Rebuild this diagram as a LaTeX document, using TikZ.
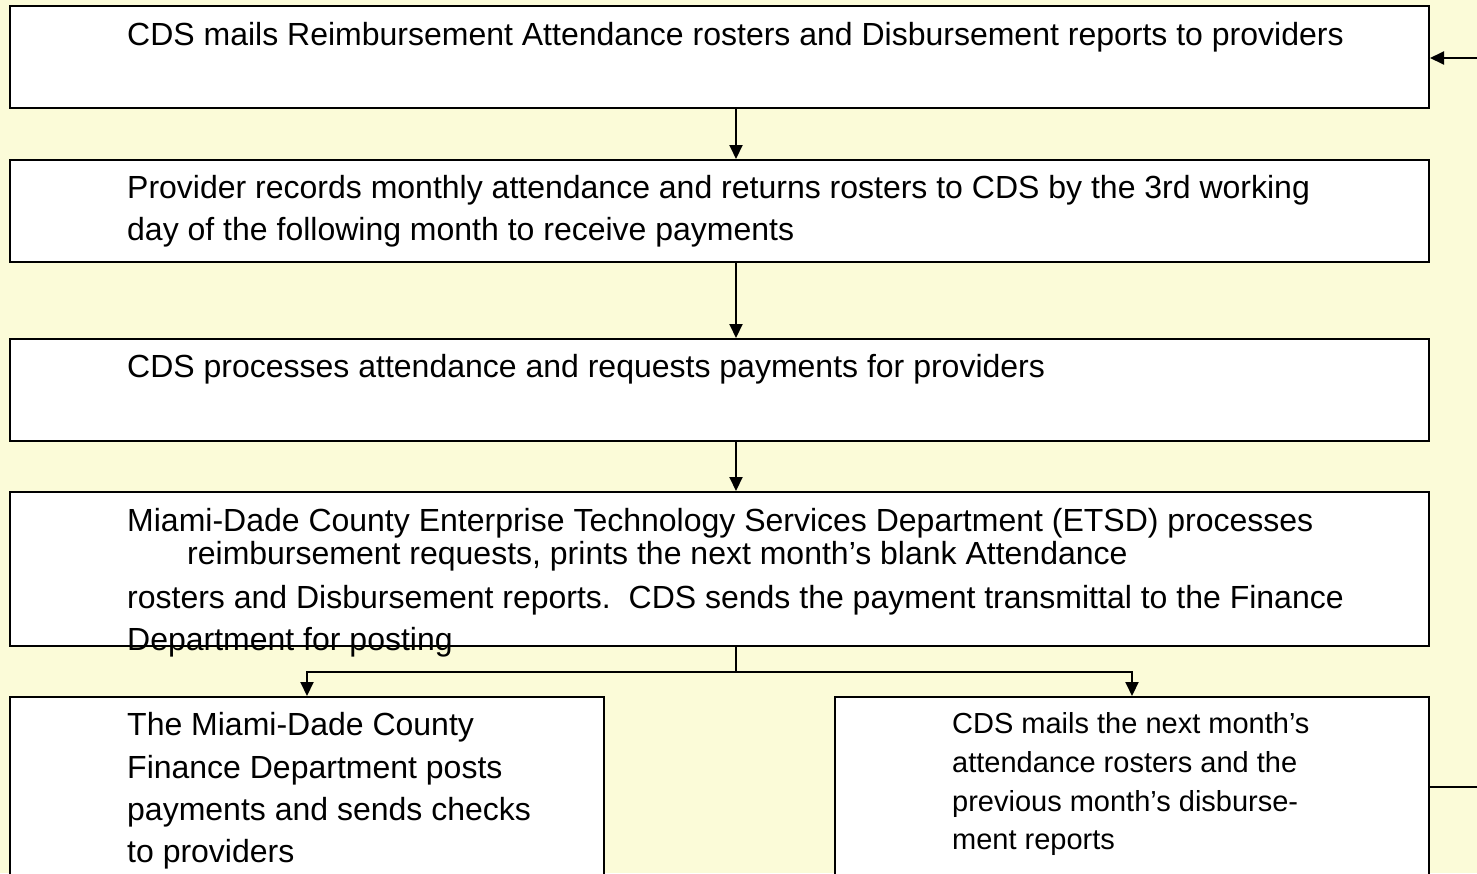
\documentclass[tikz,border=0pt]{standalone}
\usepackage{fontspec}
\setmainfont{Liberation Sans}
\usetikzlibrary{arrows.meta}
\definecolor{bgyellow}{RGB}{251,251,216}
\tikzset{
  box/.style={draw=black, fill=white, line width=2pt, inner sep=0pt},
  txt/.style={anchor=base west, inner sep=0pt, font=\fontsize{32}{38}\selectfont},
  smalltxt/.style={anchor=base west, inner sep=0pt, font=\fontsize{29}{35}\selectfont},
  conn/.style={draw=black, line width=2pt},
  arr/.style={conn, -{Triangle[length=14pt,width=13pt]}}
}
\begin{document}
\begin{tikzpicture}[x=1pt,y=-1pt]
\useasboundingbox (0,0) rectangle (1477,873);
\clip (0,0) rectangle (1477,873);
\fill[bgyellow] (0,0) rectangle (1477,873);

% boxes
\node[box, minimum width=1419pt, minimum height=102pt] (b1) at (719.5,57) {};
\node[box, minimum width=1419pt, minimum height=102pt] (b2) at (719.5,211) {};
\node[box, minimum width=1419pt, minimum height=102pt] (b3) at (719.5,390) {};
\node[box, minimum width=1419pt, minimum height=154pt] (b4) at (719.5,569) {};
\node[box, minimum width=594pt, minimum height=210pt] (b5) at (307,802) {};
\node[box, minimum width=594pt, minimum height=210pt] (b6) at (1132,802) {};

% texts
\node[txt] (t1) at (127,45) {CDS mails Reimbursement Attendance rosters and Disbursement reports to providers};
\node[txt] (t2a) at (127,198) {Provider records monthly attendance and returns rosters to CDS by the 3rd working};
\node[txt] (t2b) at (127,240) {day of the following month to receive payments};
\node[txt] (t3) at (127,377) {CDS processes attendance and requests payments for providers};
\node[txt] (t4a) at (127,531) {Miami-Dade County Enterprise Technology Services Department (ETSD) processes};
\node[txt] (t4b) at (187,564) {reimbursement requests, prints the next month’s blank Attendance};
\node[txt] (t4c) at (127,608) {rosters and Disbursement reports.\ \ CDS sends the payment transmittal to the Finance};
\node[txt] (t4d) at (127,650) {Department for posting};
\node[txt] (t5a) at (127,735) {The Miami-Dade County};
\node[txt] (t5b) at (127,778) {Finance Department posts};
\node[txt] (t5c) at (127,820) {payments and sends checks};
\node[txt] (t5d) at (127,862) {to providers};
\node[smalltxt] (t6a) at (952,733) {CDS mails the next month’s};
\node[smalltxt] (t6b) at (952,772) {attendance rosters and the};
\node[smalltxt] (t6c) at (952,811) {previous month’s disburse-};
\node[smalltxt] (t6d) at (952,849) {ment reports};

% connectors
\coordinate (ax) at (736,0);
\draw[arr] (b1.south -| ax) -- (b2.north -| ax);
\draw[arr] (b2.south -| ax) -- (b3.north -| ax);
\draw[arr] (b3.south -| ax) -- (b4.north -| ax);
\draw[conn] (b4.south -| ax) -- ++(0,25) coordinate (fk);
\draw[arr] (fk) -| (b5.north);
\draw[arr] (fk) -| (b6.north);
\coordinate (e1) at (1477,58);
\coordinate (e2) at (1477,787);
\draw[arr] (e1) -- (b1.east |- e1);
\draw[conn] (b6.east |- e2) -- (e2);
\end{tikzpicture}
\end{document}
